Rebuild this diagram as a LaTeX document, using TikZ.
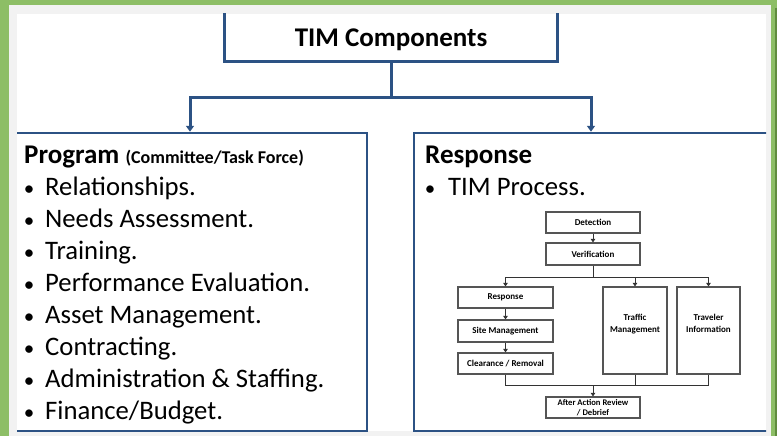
\documentclass[tikz,border=0pt]{standalone}
\usepackage{fontspec}
\setmainfont{Carlito}
\usetikzlibrary{arrows.meta,shadows}

\definecolor{timgreen}{RGB}{141,190,102}
\definecolor{timgreendark}{RGB}{96,140,62}
\definecolor{timgray}{RGB}{242,242,242}
\definecolor{timblue}{RGB}{44,82,132}
\definecolor{flowgray}{RGB}{85,85,85}

\newcommand{\timbullet}{\makebox[16pt][c]{\fontsize{21}{21}\selectfont•}\hspace{8pt}}

\tikzset{
  conn/.style={timblue, line width=3pt},
  arr/.style={conn, -{Triangle[width=8pt,length=6pt]}},
  bigbox/.style={draw=timblue, line width=2.5pt, minimum width=354pt, minimum height=298pt, inner sep=0pt},
  headtxt/.style={anchor=base west, inner sep=0pt, font=\fontsize{27}{30}\selectfont\bfseries},
  itemtxt/.style={anchor=base west, inner sep=0pt, font=\fontsize{26.7}{29}\selectfont},
  flowbox/.style={draw=flowgray, fill=white, line width=1.2pt, inner sep=1pt, align=center,
    font=\fontsize{9}{12}\selectfont\bfseries,
    drop shadow={shadow xshift=0.8pt, shadow yshift=-0.8pt, opacity=0.35}},
  flowline/.style={draw=black!80, line width=1pt},
  flowarr/.style={flowline, -{Triangle[width=4.5pt,length=3.5pt]}}
}

\begin{document}
\begin{tikzpicture}[x=1pt, y=-1pt]
  % slide background
  \fill[timgreen] (0,0) rectangle (777,436);
  \fill[timgreendark] (774.5,8) rectangle (777,436);
  \fill[timgray] (9,5) rectangle (771,436);
  \fill[white] (17,14) rectangle (766,431);

  \begin{scope}
    \clip (17,14) rectangle (766,432.5);

    % top box and the two branches
    \node[draw=timblue, line width=3pt, minimum width=333.5pt, minimum height=53pt,
      text height=30pt, text depth=6pt, inner sep=0pt,
      font=\fontsize{27}{30}\selectfont\bfseries] (title) at (391,35) {TIM Components};
    \coordinate (split) at (391,97.5);
    \node[bigbox] (program) at (190,282) {};
    \node[bigbox] (response) at (591,282) {};

    \draw[conn] (title) -- (split);
    \draw[arr] (split) -| (program);
    \draw[arr] (split) -| (response);
  \end{scope}

  % program list
  \node[headtxt] (proghead) at (24,163) {Program {\fontsize{18}{20}\selectfont (Committee/Task Force)}};
  \node[itemtxt] (prog1) at (21,195) {\timbullet Relationships.};
  \node[itemtxt] (prog2) at (21,227) {\timbullet Needs Assessment.};
  \node[itemtxt] (prog3) at (21,259.1) {\timbullet Training.};
  \node[itemtxt] (prog4) at (21,291.2) {\timbullet Performance Evaluation.};
  \node[itemtxt] (prog5) at (21,323.2) {\timbullet Asset Management.};
  \node[itemtxt] (prog6) at (21,355.3) {\timbullet Contracting.};
  \node[itemtxt] (prog7) at (21,387.3) {\timbullet Administration \& Staffing.};
  \node[itemtxt] (prog8) at (21,419.4) {\timbullet Finance/Budget.};

  % response list
  \node[headtxt] (resphead) at (425,163) {Response};
  \node[itemtxt] (resp1) at (422,195) {\makebox[16pt][c]{\fontsize{21}{21}\selectfont•}\hspace{10pt}TIM Process.};

  % TIM process chart
  \node[flowbox, minimum width=94pt, minimum height=21pt] (detect) at (593,222.5) {Detection};
  \node[flowbox, minimum width=94pt, minimum height=22pt] (verify) at (593,254) {Verification};
  \node[flowbox, minimum width=95pt, minimum height=21pt] (respstep) at (505.5,297.5) {Response};
  \node[flowbox, minimum width=95pt, minimum height=22pt] (site) at (505.5,331) {Site Management};
  \node[flowbox, minimum width=95pt, minimum height=21pt] (clear) at (505.5,363.5) {Clearance / Removal};
  \node[flowbox, minimum width=64pt, minimum height=87pt, text depth=14pt] (traffic) at (635,330.5) {Traffic\\Management};
  \node[flowbox, minimum width=63pt, minimum height=87pt, text depth=14pt] (traveler) at (708.5,330.5) {Traveler\\Information};
  \node[flowbox, minimum width=94pt, minimum height=21pt, inner sep=0pt,
    font=\fontsize{8.6}{9.6}\selectfont\bfseries] (review) at (593,407.5) {After Action Review\\/ Debrief};

  \coordinate (branch) at (593,277);
  \coordinate (merge) at (593,385);

  \draw[flowarr] (detect) -- (verify);
  \draw[flowline] (verify) -- (branch);
  \draw[flowarr] (branch) -| (respstep);
  \draw[flowarr] (branch) -| (traffic);
  \draw[flowarr] (branch) -| (traveler);
  \draw[flowarr] (respstep) -- (site);
  \draw[flowarr] (site) -- (clear);
  \draw[flowline] (clear) |- (merge);
  \draw[flowline] (traffic) |- (merge);
  \draw[flowline] (traveler) |- (merge);
  \draw[flowarr] (merge) -- (review);
\end{tikzpicture}
\end{document}
